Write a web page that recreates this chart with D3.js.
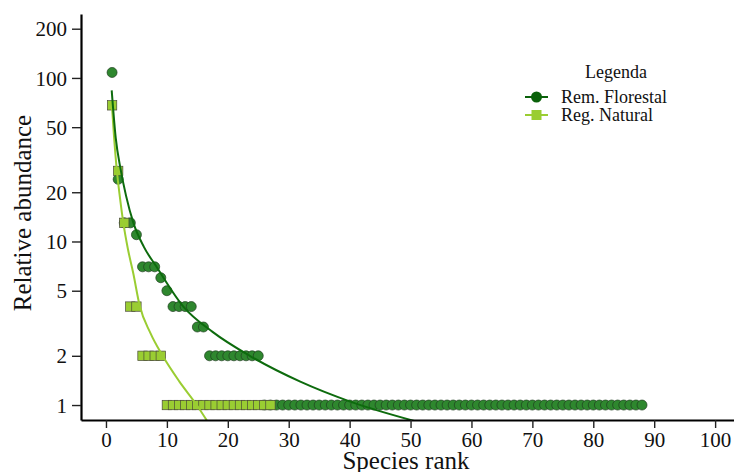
<!DOCTYPE html>
<html>
<head>
<meta charset="utf-8">
<script src="https://cdn.jsdelivr.net/npm/d3@7"></script>
<style>
  body { margin: 0; background: #fff; }
  svg text { font-family: "Liberation Serif", "DejaVu Serif", serif; fill: #111; }
</style>
</head>
<body>
<script>
// chart size
var w = 734;
var h = 472;

var remValues = [108, 24, 13, 13, 11, 7, 7, 7, 6, 5, 4, 4, 4, 4, 3, 3,
  2, 2, 2, 2, 2, 2, 2, 2, 2,
  1, 1, 1, 1, 1, 1, 1, 1, 1, 1, 1, 1, 1, 1, 1, 1, 1, 1, 1, 1, 1,
  1, 1, 1, 1, 1, 1, 1, 1, 1, 1, 1, 1, 1, 1, 1, 1, 1, 1, 1, 1, 1,
  1, 1, 1, 1, 1, 1, 1, 1, 1, 1, 1, 1, 1, 1, 1, 1, 1, 1, 1, 1, 1];
var regValues = [68, 27, 13, 4, 4, 2, 2, 2, 2,
  1, 1, 1, 1, 1, 1, 1, 1, 1, 1, 1, 1, 1, 1, 1, 1, 1, 1];

// fitted curves (estimated points along the drawn lines)
var remFitRank = [0.94, 1.6, 2.4, 3.3, 4.5, 6.2, 8.3, 12.7, 17.5, 23.6, 31.9, 40.1, 50.6];
var remFitVal = [84, 43, 27.7, 19, 13, 9.3, 7.0, 4.0, 2.8, 2.0, 1.39, 1.05, 0.8];
var regFitRank = [0.94, 1.3, 1.76, 2.3, 2.85, 3.6, 4.48, 5.5, 7.3, 9.3, 12, 14.9, 16.6];
var regFitVal = [71, 45, 27.7, 18.5, 13, 9.0, 6.4, 4.1, 2.75, 2.0, 1.4, 1.0, 0.8];

// ticks
var xTicks = [0, 10, 20, 30, 40, 50, 60, 70, 80, 90, 100];
var yTicks = [1, 2, 5, 10, 20, 50, 100, 200];

var seriesNames = ["Rem. Florestal", "Reg. Natural"];

var remData = remValues.map(function(v, i) { return { rank: i + 1, val: v }; });
var regData = regValues.map(function(v, i) { return { rank: i + 1, val: v }; });
var remFit = remFitRank.map(function(r, i) { return { rank: r, val: remFitVal[i] }; });
var regFit = regFitRank.map(function(r, i) { return { rank: r, val: regFitVal[i] }; });

// panel edges
var pLeft = 81, pRight = 734, pTop = 14, pBottom = 420;

var x = d3.scaleLinear().domain([-4.1, 103.1]).range([pLeft, pRight]);
var y = d3.scaleLog().domain([0.81, 246]).range([pBottom, pTop]);

var svg = d3.select("body").append("svg")
  .attr("width", w)
  .attr("height", h)
  .attr("font-family", "'Liberation Serif', serif");

svg.append("defs").append("clipPath").attr("id", "panel")
  .append("rect")
  .attr("x", pLeft).attr("y", pTop)
  .attr("width", pRight - pLeft).attr("height", pBottom - pTop);

// points: circles first, squares on top
svg.append("g").selectAll("circle")
  .data(remData)
  .enter()
  .append("circle")
  .attr("cx", function(d) { return x(d.rank); })
  .attr("cy", function(d) { return y(d.val); })
  .attr("r", 5)
  .attr("fill", "#2e872e")
  .attr("stroke", "#1f3d1f")
  .attr("stroke-width", 0.7);

var sq = 9.4;
svg.append("g").selectAll("rect")
  .data(regData)
  .enter()
  .append("rect")
  .attr("x", function(d) { return x(d.rank) - sq / 2; })
  .attr("y", function(d) { return y(d.val) - sq / 2; })
  .attr("width", sq)
  .attr("height", sq)
  .attr("fill", "#9acd32")
  .attr("stroke", "#4a4a3a")
  .attr("stroke-width", 0.7);

// fitted lines
var line = d3.line()
  .x(function(d) { return x(d.rank); })
  .y(function(d) { return y(d.val); })
  .curve(d3.curveMonotoneX);

var lines = svg.append("g").attr("clip-path", "url(#panel)");
lines.append("path")
  .datum(regFit)
  .attr("d", line)
  .attr("fill", "none")
  .attr("stroke", "#9acd32")
  .attr("stroke-width", 2);
lines.append("path")
  .datum(remFit)
  .attr("d", line)
  .attr("fill", "none")
  .attr("stroke", "#0d6b0d")
  .attr("stroke-width", 2);

// axes
var xAxis = svg.append("g")
  .attr("transform", "translate(0," + pBottom + ")")
  .call(d3.axisBottom(x).tickValues(xTicks).tickSize(8).tickSizeOuter(0).tickPadding(4));
var yAxis = svg.append("g")
  .attr("transform", "translate(" + pLeft + ",0)")
  .call(d3.axisLeft(y).tickValues(yTicks).tickFormat(d3.format("d")).tickSize(9).tickSizeOuter(0).tickPadding(5));

[xAxis, yAxis].forEach(function(a) {
  a.attr("font-family", "'Liberation Serif', serif").attr("font-size", 21);
  a.select(".domain").attr("stroke", "#000").attr("stroke-width", 2.2);
  a.selectAll(".tick line").attr("stroke", "#222").attr("stroke-width", 1.4);
  a.selectAll(".tick text").attr("fill", "#111");
});
yAxis.selectAll(".tick text").attr("dy", "0.34em");

// axis titles
svg.append("text")
  .attr("x", 406)
  .attr("y", 469)
  .attr("text-anchor", "middle")
  .attr("font-size", 25)
  .text("Species rank");

svg.append("text")
  .attr("transform", "translate(31,213) rotate(-90)")
  .attr("text-anchor", "middle")
  .attr("font-size", 25)
  .text("Relative abundance");

// legend
var legend = svg.append("g");
legend.append("text")
  .attr("x", 616)
  .attr("y", 78)
  .attr("text-anchor", "middle")
  .attr("font-size", 18)
  .text("Legenda");

var keyY = [97, 115];
var keyCol = ["#0a610a", "#9acd32"];
seriesNames.forEach(function(name, i) {
  legend.append("line")
    .attr("x1", 525).attr("x2", 548)
    .attr("y1", keyY[i]).attr("y2", keyY[i])
    .attr("stroke", keyCol[i])
    .attr("stroke-width", 2);
  if (i === 0) {
    legend.append("circle")
      .attr("cx", 536.5).attr("cy", keyY[i]).attr("r", 5.5)
      .attr("fill", keyCol[i]);
  } else {
    legend.append("rect")
      .attr("x", 531.5).attr("y", keyY[i] - 5)
      .attr("width", 10).attr("height", 10)
      .attr("fill", keyCol[i]);
  }
  legend.append("text")
    .attr("x", 561)
    .attr("y", keyY[i] + 5.5)
    .attr("font-size", 18)
    .text(name);
});
</script>
</body>
</html>
